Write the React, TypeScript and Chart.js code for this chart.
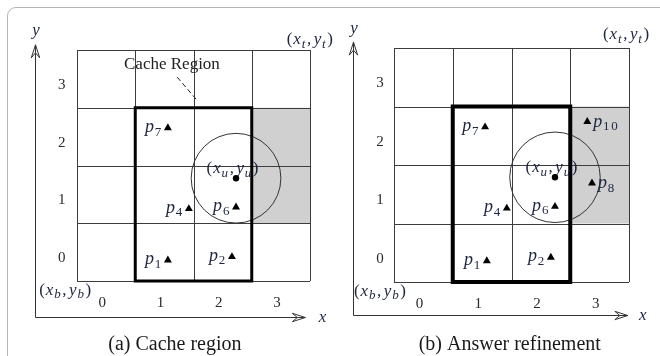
import React, { useEffect, useRef } from "react";
import { Chart, registerables } from "chart.js";

Chart.register(...registerables);

// ---------- data ----------
const cellEdges = [-0.5, 0.5, 1.5, 2.5, 3.5];
const xTicks = [0, 1, 2, 3];
const yTicks = [0, 1, 2, 3];

const aLabels = ["p_7", "p_4", "p_6", "p_1", "p_2"];
const aX = [1.06, 1.42, 2.23, 1.06, 2.16];
const aY = [2.15, 0.75, 0.78, -0.14, -0.08];
const aSide = ["l", "l", "l", "l", "l"];
const aQueryX = [2.23];
const aQueryY = [1.28];

const bLabels = ["p_7", "p_{10}", "p_8", "p_4", "p_6", "p_1", "p_2"];
const bX = [1.05, 2.79, 2.87, 1.42, 2.24, 1.08, 2.17];
const bY = [2.15, 2.24, 1.19, 0.76, 0.79, -0.14, -0.08];
const bSide = ["l", "r", "r", "l", "l", "l", "l"];
const bQueryX = [2.24];
const bQueryY = [1.29];

const cacheRegionX = [0.5, 2.5];
const cacheRegionY = [-0.5, 2.5];
const shadedX = [2.5, 3.5];
const shadedY = [0.5, 2.5];
const circleRadius = 0.77;

const captions = ["(a) Cache region", "(b) Answer refinement"];
const cacheRegionText = "Cache Region";
const queryText = "(x_u,y_u)";
const topText = "(x_t,y_t)";
const bottomText = "(x_b,y_b)";

// ---------- math text helper ----------
type Seg = { t: string; it: boolean; sub: boolean };
function parseMath(s: string): Seg[] {
  const out: Seg[] = [];
  let i = 0;
  while (i < s.length) {
    let sub = false;
    let chunk = "";
    if (s[i] === "_") {
      sub = true;
      i++;
      if (s[i] === "{") {
        const j = s.indexOf("}", i);
        chunk = s.slice(i + 1, j);
        i = j + 1;
      } else {
        chunk = s[i];
        i++;
      }
    } else {
      chunk = s[i];
      i++;
    }
    for (const c of chunk) {
      out.push({ t: c, it: /[a-zA-Z]/.test(c), sub });
    }
  }
  return out;
}
const SERIF = '"Liberation Serif", "DejaVu Serif", serif';
function segFont(sg: Seg, size: number) {
  const sz = sg.sub ? Math.round(size * 0.74) : size;
  return `${sg.it ? "italic " : ""}${sz}px ${SERIF}`;
}
function drawMath(ctx: CanvasRenderingContext2D, s: string, x: number, y: number, align: string, size: number, color: string) {
  const segs = parseMath(s);
  let w = 0;
  const widths: number[] = [];
  for (const sg of segs) {
    ctx.font = segFont(sg, size);
    const extra = sg.sub ? 1.6 : sg.it ? 0.8 : sg.t === "," ? 2.5 : 1;
    const m = ctx.measureText(sg.t).width + extra;
    widths.push(m);
    w += m;
  }
  let cx = align === "left" ? x : align === "right" ? x - w : x - w / 2;
  ctx.fillStyle = color;
  ctx.textAlign = "left";
  ctx.textBaseline = "alphabetic";
  segs.forEach((sg, k) => {
    ctx.font = segFont(sg, size);
    ctx.fillText(sg.t, cx, y + (sg.sub ? size * 0.2 : 0));
    cx += widths[k];
  });
}

function arrowHead(ctx: CanvasRenderingContext2D, tx: number, ty: number, dx: number, dy: number) {
  const L = 13, W = 4.2, N = 8;
  const nx = -dy, ny = dx;
  ctx.beginPath();
  ctx.moveTo(tx, ty);
  ctx.lineTo(tx - dx * L + nx * W, ty - dy * L + ny * W);
  ctx.lineTo(tx - dx * N, ty - dy * N);
  ctx.lineTo(tx - dx * L - nx * W, ty - dy * L - ny * W);
  ctx.closePath();
  ctx.fillStyle = "#fff";
  ctx.fill();
  ctx.stroke();
  ctx.beginPath();
  ctx.moveTo(tx, ty);
  ctx.lineTo(tx - dx * N, ty - dy * N);
  ctx.stroke();
}

type PanelSpec = {
  labels: string[];
  xs: number[];
  ys: number[];
  side: string[];
  qx: number[];
  qy: number[];
  width: number;
  padding: { left: number; right: number; top: number; bottom: number };
  axisX: number;
  axisY: number;
  yTip: number;
  xTip: number;
  yLabelY: number;
  xLabelX: number;
  topAt: [number, number];
  bottomAt: [number, number];
  yTickX: number;
  caption: string;
  captionAt: [number, number];
  rectWidth: number;
  cacheLabel: boolean;
};

const TEXT = "#1d2540";
const GRID = "#3c3c3c";

function makePlugin(spec: PanelSpec) {
  return {
    id: "diagram",
    beforeDatasetsDraw(chart: any) {
      const ctx: CanvasRenderingContext2D = chart.ctx;
      const X = (v: number) => chart.scales.x.getPixelForValue(v);
      const Y = (v: number) => chart.scales.y.getPixelForValue(v);
      ctx.save();
      // shaded cells
      ctx.fillStyle = "#d0d0d0";
      ctx.fillRect(X(shadedX[0]), Y(shadedY[1]), X(shadedX[1]) - X(shadedX[0]), Y(shadedY[0]) - Y(shadedY[1]));
      // grid
      ctx.strokeStyle = GRID;
      ctx.lineWidth = 1;
      const e0 = cellEdges[0], e1 = cellEdges[cellEdges.length - 1];
      for (const e of cellEdges) {
        ctx.beginPath();
        ctx.moveTo(Math.round(X(e)) + 0.5, Y(e0));
        ctx.lineTo(Math.round(X(e)) + 0.5, Y(e1));
        ctx.stroke();
        ctx.beginPath();
        ctx.moveTo(X(e0), Math.round(Y(e)) + 0.5);
        ctx.lineTo(X(e1), Math.round(Y(e)) + 0.5);
        ctx.stroke();
      }
      // circle
      const cx = X(spec.qx[0]), cy = Y(spec.qy[0]);
      const r = X(spec.qx[0] + circleRadius) - cx;
      ctx.strokeStyle = "#333";
      ctx.lineWidth = 1;
      ctx.beginPath();
      ctx.arc(cx, cy, r, 0, Math.PI * 2);
      ctx.stroke();
      // cache region rectangle
      ctx.strokeStyle = "#000";
      ctx.lineWidth = spec.rectWidth;
      ctx.strokeRect(X(cacheRegionX[0]), Y(cacheRegionY[1]), X(cacheRegionX[1]) - X(cacheRegionX[0]), Y(cacheRegionY[0]) - Y(cacheRegionY[1]));
      // axes
      ctx.strokeStyle = "#333";
      ctx.lineWidth = 1;
      const ox = Math.round(X(spec.axisX)) + 0.5, oy = Math.round(Y(spec.axisY)) + 0.5;
      ctx.beginPath();
      ctx.moveTo(ox, oy);
      ctx.lineTo(ox, Y(spec.yTip) + 8);
      ctx.moveTo(ox, oy);
      ctx.lineTo(X(spec.xTip) - 8, oy);
      ctx.stroke();
      arrowHead(ctx, ox, Y(spec.yTip), 0, -1);
      arrowHead(ctx, X(spec.xTip), oy, 1, 0);
      // axis letters
      drawMath(ctx, "y", ox + 1, Y(spec.yLabelY) + 4, "center", 17, TEXT);
      drawMath(ctx, "x", X(spec.xLabelX), oy + 4, "center", 17, TEXT);
      // tick labels
      ctx.fillStyle = "#2a2a2a";
      ctx.font = `15px ${SERIF}`;
      ctx.textAlign = "center";
      ctx.textBaseline = "alphabetic";
      for (const t of xTicks) ctx.fillText(String(t), X(t) - 4, Y(-0.95));
      ctx.textBaseline = "middle";
      for (const t of yTicks) ctx.fillText(String(t), X(spec.yTickX), Y(t) + 6);
      // corner labels
      drawMath(ctx, topText, X(spec.topAt[0]), Y(spec.topAt[1]), "right", 17, TEXT);
      drawMath(ctx, bottomText, X(spec.bottomAt[0]), Y(spec.bottomAt[1]), "right", 17, TEXT);
      // cache region label
      if (spec.cacheLabel) {
        ctx.fillStyle = "#222";
        ctx.font = `17px ${SERIF}`;
        ctx.textAlign = "center";
        ctx.textBaseline = "middle";
        ctx.fillText(cacheRegionText, X(1.13), Y(3.24));
        ctx.setLineDash([5, 3]);
        ctx.strokeStyle = "#222";
        ctx.lineWidth = 1;
        ctx.beginPath();
        ctx.moveTo(X(1.22), Y(3.03));
        ctx.lineTo(X(1.56), Y(2.63));
        ctx.stroke();
        ctx.setLineDash([]);
      }
      // query label
      drawMath(ctx, queryText, cx - 3, cy - 5, "center", 17, TEXT);
      // caption
      ctx.fillStyle = "#1a1a1a";
      ctx.font = `20px ${SERIF}`;
      ctx.textAlign = "center";
      ctx.textBaseline = "middle";
      ctx.fillText(spec.caption, X(spec.captionAt[0]), Y(spec.captionAt[1]));
      ctx.restore();
    },
    afterDatasetsDraw(chart: any) {
      const ctx: CanvasRenderingContext2D = chart.ctx;
      const X = (v: number) => chart.scales.x.getPixelForValue(v);
      const Y = (v: number) => chart.scales.y.getPixelForValue(v);
      ctx.save();
      spec.labels.forEach((lab, i) => {
        const px = X(spec.xs[i]), py = Y(spec.ys[i]);
        if (spec.side[i] === "l") drawMath(ctx, lab, px - 5, py + 4, "right", 18, TEXT);
        else drawMath(ctx, lab, px + 6, py + 5, "left", 18, TEXT);
      });
      ctx.restore();
    },
  };
}

function Panel({ spec, left }: { spec: PanelSpec; left: number }) {
  const ref = useRef<HTMLCanvasElement | null>(null);
  useEffect(() => {
    if (!ref.current) return;
    const chart = new Chart(ref.current, {
      type: "scatter",
      data: {
        datasets: [
          {
            data: spec.xs.map((x, i) => ({ x, y: spec.ys[i] })),
            pointStyle: "triangle",
            pointRadius: 4.6,
            pointHoverRadius: 4.6,
            backgroundColor: "#000",
            borderColor: "#000",
            borderWidth: 0,
          },
          {
            data: spec.qx.map((x, i) => ({ x, y: spec.qy[i] })),
            pointStyle: "circle",
            pointRadius: 3.2,
            pointHoverRadius: 3.2,
            backgroundColor: "#000",
            borderColor: "#000",
            borderWidth: 0,
          },
        ],
      } as any,
      options: {
        animation: false,
        responsive: false,
        events: [],
        layout: { padding: spec.padding },
        plugins: { legend: { display: false }, tooltip: { enabled: false }, title: { display: false } },
        scales: {
          x: { type: "linear", min: -0.5, max: 3.5, display: false },
          y: { type: "linear", min: -0.5, max: 3.5, display: false },
        },
      } as any,
      plugins: [makePlugin(spec) as any],
    });
    return () => chart.destroy();
  }, [spec]);
  return (
    <canvas
      ref={ref}
      width={spec.width}
      height={356}
      style={{ position: "absolute", left, top: 0, width: spec.width, height: 356 }}
    />
  );
}

const specA: PanelSpec = {
  labels: aLabels,
  xs: aX,
  ys: aY,
  side: aSide,
  qx: aQueryX,
  qy: aQueryY,
  width: 345,
  padding: { left: 77, right: 35, top: 50, bottom: 75 },
  axisX: -1.22,
  axisY: -1.12,
  yTip: 3.59,
  xTip: 3.42,
  yLabelY: 3.83,
  xLabelX: 3.72,
  topAt: [3.91, 3.6],
  bottomAt: [-0.24, -0.74],
  yTickX: -0.76,
  caption: captions[0],
  captionAt: [1.18, -1.61],
  rectWidth: 3,
  cacheLabel: true,
};

const specB: PanelSpec = {
  labels: bLabels,
  xs: bX,
  ys: bY,
  side: bSide,
  qx: bQueryX,
  qy: bQueryY,
  width: 330,
  padding: { left: 64, right: 31, top: 48, bottom: 74 },
  axisX: -1.2,
  axisY: -1.06,
  yTip: 3.6,
  xTip: 3.48,
  yLabelY: 3.83,
  xLabelX: 3.74,
  topAt: [3.86, 3.65],
  bottomAt: [-0.28, -0.74],
  yTickX: -0.74,
  caption: captions[1],
  captionAt: [1.47, -1.58],
  rectWidth: 4,
  cacheLabel: false,
};

export default function App() {
  return (
    <div
      style={{
        position: "fixed",
        left: 0,
        top: 0,
        width: 660,
        height: 356,
        overflow: "hidden",
        background: "#fff",
      }}
    >
      <div
        style={{
          position: "absolute",
          left: 7,
          top: 7,
          width: 720,
          height: 420,
          border: "1.5px solid #b4b4b4",
          borderRadius: 9,
        }}
      />
      <Panel spec={specA} left={0} />
      <Panel spec={specB} left={330} />
    </div>
  );
}
